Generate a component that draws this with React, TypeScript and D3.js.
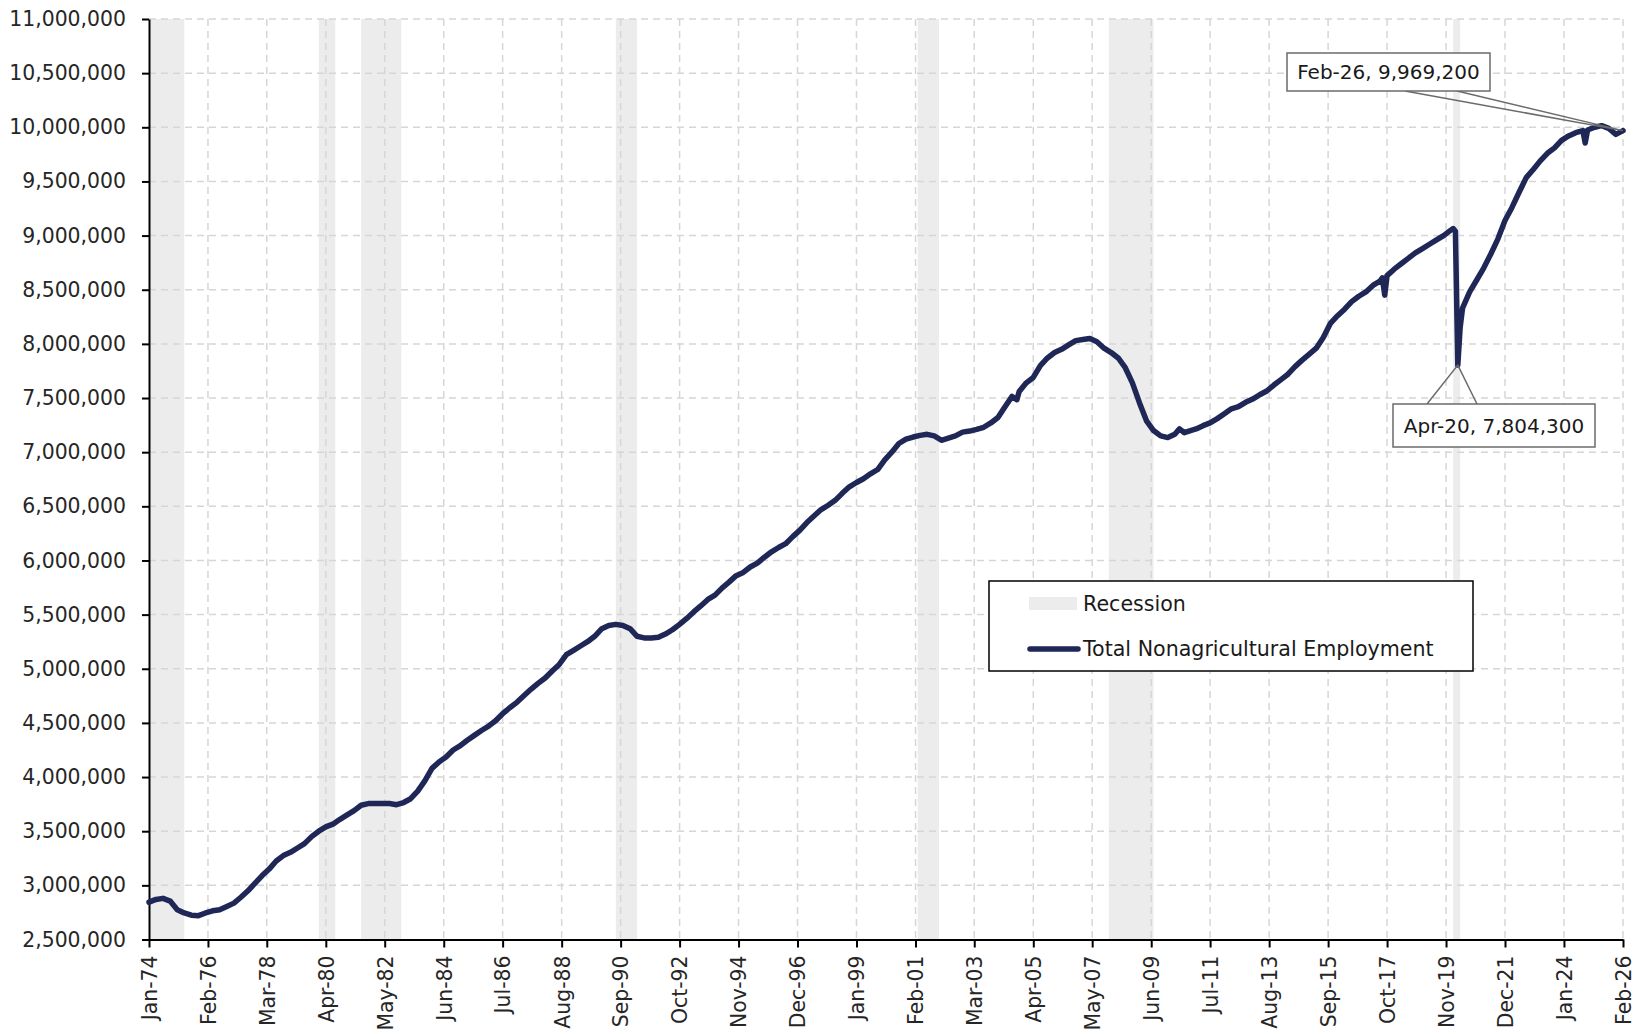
import React, { useEffect, useRef } from "react";
import * as d3 from "d3";

// monthly readings of total nonagricultural employment (sampled)
const months = [
  "1974-01", "1974-04", "1974-07", "1974-10", "1975-01", "1975-04", "1975-07", "1975-10",
  "1976-01", "1976-04", "1976-07", "1976-10", "1977-01", "1977-04", "1977-07", "1977-10",
  "1978-01", "1978-04", "1978-07", "1978-10", "1979-01", "1979-04", "1979-07", "1979-10",
  "1980-01", "1980-04", "1980-07", "1980-10", "1981-01", "1981-04", "1981-07", "1981-10",
  "1982-01", "1982-04", "1982-07", "1982-10", "1983-01", "1983-04", "1983-07", "1983-10",
  "1984-01", "1984-04", "1984-07", "1984-10", "1985-01", "1985-04", "1985-07", "1985-10",
  "1986-01", "1986-04", "1986-07", "1986-10", "1987-01", "1987-04", "1987-07", "1987-10",
  "1988-01", "1988-04", "1988-07", "1988-10", "1989-01", "1989-04", "1989-07", "1989-10",
  "1990-01", "1990-04", "1990-07", "1990-10", "1991-01", "1991-04", "1991-07", "1991-10",
  "1992-01", "1992-04", "1992-07", "1992-10", "1993-01", "1993-04", "1993-07", "1993-10",
  "1994-01", "1994-04", "1994-07", "1994-10", "1995-01", "1995-04", "1995-07", "1995-10",
  "1996-01", "1996-04", "1996-07", "1996-10", "1997-01", "1997-04", "1997-07", "1997-10",
  "1998-01", "1998-04", "1998-07", "1998-10", "1999-01", "1999-04", "1999-07", "1999-10",
  "2000-01", "2000-04", "2000-07", "2000-10", "2001-01", "2001-04", "2001-07", "2001-10",
  "2002-01", "2002-04", "2002-07", "2002-10", "2003-01", "2003-04", "2003-07", "2003-10",
  "2004-01", "2004-04", "2004-07", "2004-09", "2004-10", "2005-01", "2005-04", "2005-07",
  "2005-10", "2006-01", "2006-04", "2006-07", "2006-10", "2007-01", "2007-04", "2007-07",
  "2007-10", "2008-01", "2008-04", "2008-07", "2008-10", "2009-01", "2009-04", "2009-07",
  "2009-10", "2010-01", "2010-04", "2010-06", "2010-08", "2010-10", "2011-01", "2011-04",
  "2011-07", "2011-10", "2012-01", "2012-04", "2012-07", "2012-10", "2013-01", "2013-04",
  "2013-07", "2013-10", "2014-01", "2014-04", "2014-07", "2014-10", "2015-01", "2015-04",
  "2015-07", "2015-10", "2016-01", "2016-04", "2016-07", "2016-10", "2017-01", "2017-04",
  "2017-07", "2017-08", "2017-09", "2017-10", "2018-01", "2018-04", "2018-07", "2018-10",
  "2019-01", "2019-04", "2019-07", "2019-10", "2020-01", "2020-02", "2020-03", "2020-04",
  "2020-05", "2020-06", "2020-09", "2020-12", "2021-03", "2021-06", "2021-09", "2021-12",
  "2022-03", "2022-06", "2022-09", "2022-12", "2023-03", "2023-06", "2023-09", "2023-12",
  "2024-03", "2024-06", "2024-09", "2024-10", "2024-11", "2025-02", "2025-05", "2025-08",
  "2025-11", "2026-02",
];

const employment = [
  2845000, 2870000, 2880000, 2855000, 2775000, 2745000, 2725000, 2720000,
  2745000, 2765000, 2775000, 2805000, 2836000, 2890000, 2950000, 3020000,
  3090000, 3150000, 3225000, 3275000, 3305000, 3345000, 3385000, 3450000,
  3500000, 3540000, 3565000, 3610000, 3650000, 3690000, 3740000, 3755000,
  3757000, 3755000, 3755000, 3745000, 3765000, 3800000, 3870000, 3965000,
  4080000, 4140000, 4185000, 4250000, 4290000, 4340000, 4385000, 4430000,
  4470000, 4520000, 4585000, 4640000, 4690000, 4750000, 4810000, 4865000,
  4915000, 4980000, 5040000, 5130000, 5170000, 5210000, 5250000, 5300000,
  5370000, 5400000, 5410000, 5400000, 5370000, 5300000, 5285000, 5285000,
  5290000, 5320000, 5360000, 5410000, 5465000, 5525000, 5580000, 5640000,
  5680000, 5745000, 5800000, 5860000, 5890000, 5940000, 5975000, 6030000,
  6080000, 6120000, 6155000, 6220000, 6280000, 6350000, 6410000, 6470000,
  6510000, 6555000, 6620000, 6680000, 6720000, 6755000, 6800000, 6840000,
  6930000, 7000000, 7080000, 7120000, 7140000, 7155000, 7165000, 7150000,
  7110000, 7130000, 7150000, 7185000, 7195000, 7210000, 7230000, 7270000,
  7320000, 7420000, 7515000, 7485000, 7560000, 7640000, 7690000, 7800000,
  7870000, 7920000, 7950000, 7990000, 8030000, 8040000, 8050000, 8020000,
  7960000, 7920000, 7870000, 7780000, 7640000, 7455000, 7290000, 7200000,
  7150000, 7135000, 7165000, 7215000, 7180000, 7195000, 7215000, 7245000,
  7270000, 7310000, 7355000, 7400000, 7420000, 7460000, 7490000, 7530000,
  7565000, 7620000, 7670000, 7720000, 7790000, 7850000, 7905000, 7960000,
  8060000, 8190000, 8260000, 8320000, 8390000, 8440000, 8480000, 8540000,
  8580000, 8610000, 8450000, 8630000, 8690000, 8740000, 8790000, 8840000,
  8880000, 8920000, 8960000, 9000000, 9050000, 9065000, 9040000, 7804300,
  8150000, 8330000, 8480000, 8590000, 8700000, 8830000, 8970000, 9140000,
  9260000, 9400000, 9535000, 9610000, 9690000, 9760000, 9810000, 9880000,
  9920000, 9950000, 9970000, 9855000, 9975000, 10000000, 10015000, 9990000,
  9935000, 9969200,
];

const recessionStarts = ["1973-11", "1980-01", "1981-07", "1990-07", "2001-03", "2007-12", "2020-02"];
const recessionEnds = ["1975-03", "1980-07", "1982-11", "1991-03", "2001-11", "2009-06", "2020-04"];

const xTickLabels = [
  "Jan-74", "Feb-76", "Mar-78", "Apr-80", "May-82", "Jun-84", "Jul-86", "Aug-88", "Sep-90",
  "Oct-92", "Nov-94", "Dec-96", "Jan-99", "Feb-01", "Mar-03", "Apr-05", "May-07", "Jun-09",
  "Jul-11", "Aug-13", "Sep-15", "Oct-17", "Nov-19", "Dec-21", "Jan-24", "Feb-26",
];

const yTicks = [
  2500000, 3000000, 3500000, 4000000, 4500000, 5000000, 5500000, 6000000, 6500000,
  7000000, 7500000, 8000000, 8500000, 9000000, 9500000, 10000000, 10500000, 11000000,
];

const calloutMonths = ["2026-02", "2020-04"];
const calloutValues = [9969200, 7804300];

const App: React.FC = () => {
  const svgRef = useRef<SVGSVGElement | null>(null);

  useEffect(() => {
    if (!svgRef.current) return;
    const svg = d3.select(svgRef.current);
    svg.selectAll("*").remove();

    const width = 1638;
    const height = 1034;
    const left = 149;
    const right = 1623;
    const top = 19;
    const bottom = 939.5;
    const font = "'DejaVu Sans', Verdana, sans-serif";

    const parseMonth = d3.timeParse("%Y-%m");
    const parseTick = d3.timeParse("%b-%y");
    const data = months.map((m, i) => ({ date: parseMonth(m)!, value: employment[i] }));
    const tickDates = xTickLabels.map((t) => parseTick(t)!);

    const x = d3
      .scaleTime()
      .domain([tickDates[0], tickDates[tickDates.length - 1]])
      .range([left, right]);
    const y = d3
      .scaleLinear()
      .domain([yTicks[0], yTicks[yTicks.length - 1]])
      .range([bottom, top]);

    svg.attr("width", width).attr("height", height);
    svg.append("rect").attr("width", width).attr("height", height).attr("fill", "#fff");

    // recession shading
    const bands = recessionStarts.map((s, i) => ({
      start: d3.max([parseMonth(s)!, x.domain()[0]])!,
      end: d3.timeMonth.offset(parseMonth(recessionEnds[i])!, 1),
    }));
    svg
      .append("g")
      .selectAll("rect")
      .data(bands)
      .enter()
      .append("rect")
      .attr("x", (d) => x(d.start))
      .attr("y", top)
      .attr("width", (d) => x(d.end) - x(d.start))
      .attr("height", bottom - top)
      .attr("fill", "#ececec");

    // gridlines
    const grid = svg
      .append("g")
      .attr("stroke", "#d6d6d6")
      .attr("stroke-width", 1.5)
      .attr("stroke-dasharray", "7,5");
    grid
      .selectAll("line.h")
      .data(yTicks.slice(1))
      .enter()
      .append("line")
      .attr("x1", left)
      .attr("x2", right)
      .attr("y1", (d) => y(d))
      .attr("y2", (d) => y(d));
    grid
      .selectAll("line.v")
      .data(tickDates.slice(1))
      .enter()
      .append("line")
      .attr("x1", (d) => x(d))
      .attr("x2", (d) => x(d))
      .attr("y1", top)
      .attr("y2", bottom);

    // axes
    const yAxis = svg
      .append("g")
      .attr("transform", `translate(${left},0)`)
      .call(
        d3
          .axisLeft(y)
          .tickValues(yTicks)
          .tickFormat((d) => d3.format(",")(d as number))
          .tickSize(7)
          .tickSizeOuter(0)
          .tickPadding(16)
      );
    const xAxis = svg
      .append("g")
      .attr("transform", `translate(0,${bottom})`)
      .call(
        d3
          .axisBottom(x)
          .tickValues(tickDates)
          .tickFormat((d, i) => xTickLabels[i])
          .tickSize(8)
          .tickSizeOuter(0)
      );
    [yAxis, xAxis].forEach((a) => {
      a.select(".domain").attr("stroke", "#000").attr("stroke-width", 2);
      a.selectAll(".tick line").attr("stroke", "#000").attr("stroke-width", 2);
      a.selectAll("text")
        .attr("font-family", font)
        .attr("font-size", 20.4)
        .attr("fill", "#262626");
    });
    xAxis
      .selectAll("text")
      .attr("transform", "rotate(-90)")
      .attr("text-anchor", "end")
      .attr("x", -16)
      .attr("y", 0)
      .attr("dy", "0.36em");

    // series
    const line = d3
      .line<{ date: Date; value: number }>()
      .x((d) => x(d.date))
      .y((d) => y(d.value));
    svg
      .append("path")
      .datum(data)
      .attr("d", line)
      .attr("fill", "none")
      .attr("stroke", "#1f2756")
      .attr("stroke-width", 5.5)
      .attr("stroke-linejoin", "round")
      .attr("stroke-linecap", "round");

    // legend
    const legend = svg.append("g");
    legend
      .append("rect")
      .attr("x", 989)
      .attr("y", 581)
      .attr("width", 484)
      .attr("height", 90)
      .attr("fill", "#fff")
      .attr("stroke", "#000")
      .attr("stroke-width", 1.5);
    legend
      .append("rect")
      .attr("x", 1029)
      .attr("y", 597)
      .attr("width", 48)
      .attr("height", 13)
      .attr("fill", "#ececec");
    legend
      .append("line")
      .attr("x1", 1030)
      .attr("x2", 1078)
      .attr("y1", 649)
      .attr("y2", 649)
      .attr("stroke", "#1f2756")
      .attr("stroke-width", 5.5)
      .attr("stroke-linecap", "round");
    legend
      .selectAll("text")
      .data(["Recession", "Total Nonagricultural Employment"])
      .enter()
      .append("text")
      .attr("x", 1083)
      .attr("y", (d, i) => (i === 0 ? 604 : 649))
      .attr("dy", "0.35em")
      .attr("font-family", font)
      .attr("font-size", 20.6)
      .attr("fill", "#1a1a1a")
      .text((d) => d);

    // callouts
    const boxes = [
      { bx: 1287, by: 53, bw: 203, bh: 38, w1: 1405, w2: 1457, wy: 91 },
      { bx: 1393, by: 404, bw: 202, bh: 43, w1: 1427, w2: 1477, wy: 404 },
    ];
    calloutMonths.forEach((m, i) => {
      const date = parseMonth(m)!;
      const px = x(date);
      const py = y(calloutValues[i]);
      const b = boxes[i];
      const label = `${d3.timeFormat("%b-%y")(date)}, ${d3.format(",")(calloutValues[i])}`;
      const g = svg.append("g");
      g.append("path")
        .attr("d", `M${b.w1},${b.wy}L${px},${py}L${b.w2},${b.wy}`)
        .attr("fill", "none")
        .attr("stroke", "#6b6b6b")
        .attr("stroke-width", 1.5);
      g.append("rect")
        .attr("x", b.bx)
        .attr("y", b.by)
        .attr("width", b.bw)
        .attr("height", b.bh)
        .attr("fill", "#fff")
        .attr("stroke", "#6b6b6b")
        .attr("stroke-width", 1.5);
      g.append("text")
        .attr("x", b.bx + b.bw / 2)
        .attr("y", b.by + b.bh / 2)
        .attr("dy", "0.35em")
        .attr("text-anchor", "middle")
        .attr("font-family", font)
        .attr("font-size", 20)
        .attr("fill", "#1a1a1a")
        .text(label);
    });
  }, []);

  return <svg ref={svgRef} style={{ position: "absolute", left: 0, top: 0 }}></svg>;
};

export default App;
